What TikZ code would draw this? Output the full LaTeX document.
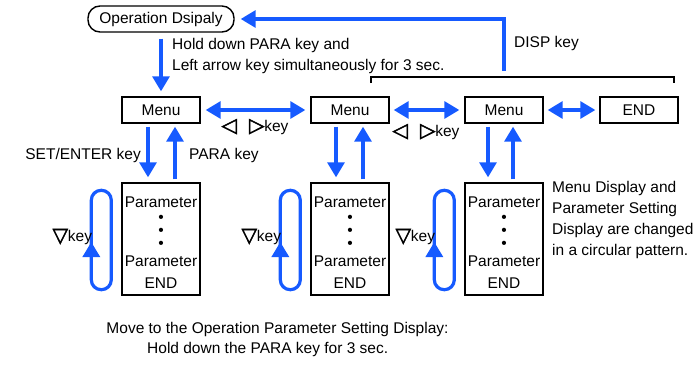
\documentclass[tikz,border=0pt]{standalone}
\usepackage{fontspec}
\setmainfont{Liberation Sans}
\newfontfamily\symfont[FakeBold=2.5]{DejaVu Sans}
\usetikzlibrary{arrows.meta}

\definecolor{keyblue}{RGB}{22,90,255}

\tikzset{
  menubox/.style={draw, line width=1.4pt, minimum width=78pt, minimum height=26pt, inner sep=0pt},
  parbox/.style={draw, line width=1.4pt, minimum width=78pt, minimum height=112pt, inner sep=0pt, align=center},
  flow/.style={keyblue, line width=3.2pt, -{Triangle[length=15pt,width=17pt]}},
  both/.style={keyblue, line width=3.2pt, {Triangle[length=15pt,width=17pt]}-{Triangle[length=15pt,width=17pt]}},
  loopline/.style={keyblue, line width=3.2pt, rounded corners=9.9pt},
  lbl/.style={inner sep=0pt}
}

\newcommand\tri[1]{{\symfont\fontsize{20}{20}\selectfont #1}}

\begin{document}
\begin{tikzpicture}[x=1pt, y=-1pt, font=\fontsize{15.5}{21}\selectfont]

  \useasboundingbox (0,0) rectangle (700,364);

  \newcommand\partext{\rule{0pt}{18pt}Parameter\\[-6pt]•\\[-8pt]•\\[-8pt]•\\[-3pt]Parameter\\[1pt]END};

  \node[draw, rounded corners=12pt, line width=1.4pt, minimum width=146pt,
    minimum height=26pt, inner sep=0pt] (opdisp) at (161,19) {Operation Dsipaly};

  \node[menubox] (menuA) at (161,110) {Menu};
  \node[menubox] (menuB) at (350,110) {Menu};
  \node[menubox] (menuC) at (504,110) {Menu};
  \node[menubox] (endm)  at (639,110) {END};

  \node[parbox] (parA) at (161,239) {\partext};
  \node[parbox] (parB) at (350,239) {\partext};
  \node[parbox] (parC) at (504,239) {\partext};

  % operation display -> menu
  \draw[flow, shorten <=6pt, shorten >=5pt] (opdisp) -- (menuA);
  \node[lbl, anchor=west, align=left] (holdtxt) at (172,56)
    {Hold down PARA key and\\Left arrow key simultaneously for 3 sec.};

  % DISP key back to operation display
  \coordinate (disp) at (504,71);
  \draw[flow, shorten >=6pt] (disp) |- (opdisp.east);
  \draw[line width=1.3pt] (371,83) |- (674,77) -- (674,83);
  \node[lbl, anchor=west] (disptxt) at (514,43) {DISP key};

  % menu to menu
  \draw[both, shorten <=5pt, shorten >=5pt] (menuA) -- (menuB);
  \draw[both, shorten <=4pt, shorten >=5pt] (menuB) -- (menuC);
  \draw[both, shorten <=4pt, shorten >=4pt] (menuC) -- (endm);
  \node[lbl] (lrA) at (255,127) {\tri{◁}\hspace{12pt}\tri{▷}key};
  \node[lbl] (lrB) at (426,132) {\tri{◁}\hspace{12pt}\tri{▷}key};

  % menu <-> parameters
  \draw[flow, shorten <=3pt, shorten >=5pt] ([xshift=-13pt]menuA.south) -- ([xshift=-13pt]parA.north);
  \draw[flow, shorten <=3pt, shorten >=3pt] ([xshift=14pt]parA.north) -- ([xshift=14pt]menuA.south);
  \draw[flow, shorten <=3pt, shorten >=5pt] ([xshift=-14pt]menuB.south) -- ([xshift=-14pt]parB.north);
  \draw[flow, shorten <=3pt, shorten >=3pt] ([xshift=13pt]parB.north) -- ([xshift=13pt]menuB.south);
  \draw[flow, shorten <=3pt, shorten >=5pt] ([xshift=-16pt]menuC.south) -- ([xshift=-16pt]parC.north);
  \draw[flow, shorten <=3pt, shorten >=3pt] ([xshift=9pt]parC.north) -- ([xshift=9pt]menuC.south);
  \node[lbl, anchor=east] (settxt) at (141,155) {SET/ENTER key};
  \node[lbl, anchor=west] (paratxt) at (189,155) {PARA key};

  % down key loops
  \foreach \p in {parA,parB,parC} {
    \draw[loopline] ([xshift=-30pt,yshift=-8pt]\p.north west) rectangle ([xshift=-10pt,yshift=6pt]\p.south west);
    \draw[flow] ([xshift=-30pt,yshift=-24pt]\p.west) -- ([xshift=-30pt,yshift=-3pt]\p.west);
    \node[lbl, anchor=east] (\p key) at ([xshift=-29pt,yshift=2pt]\p.west) {\tri{▽}key};
  }

  \node[lbl, anchor=west, align=left, font=\fontsize{15.5}{20.7}\selectfont] (circtxt) at (552,220)
    {Menu Display and\\Parameter Setting\\Display are changed\\in a circular pattern.};

  \node[lbl] (movetxt) at (277.5,329) {Move to the Operation Parameter Setting Display:};
  \node[lbl, anchor=west] (holdpara) at (147,349) {Hold down the PARA key for 3 sec.};

\end{tikzpicture}
\end{document}
